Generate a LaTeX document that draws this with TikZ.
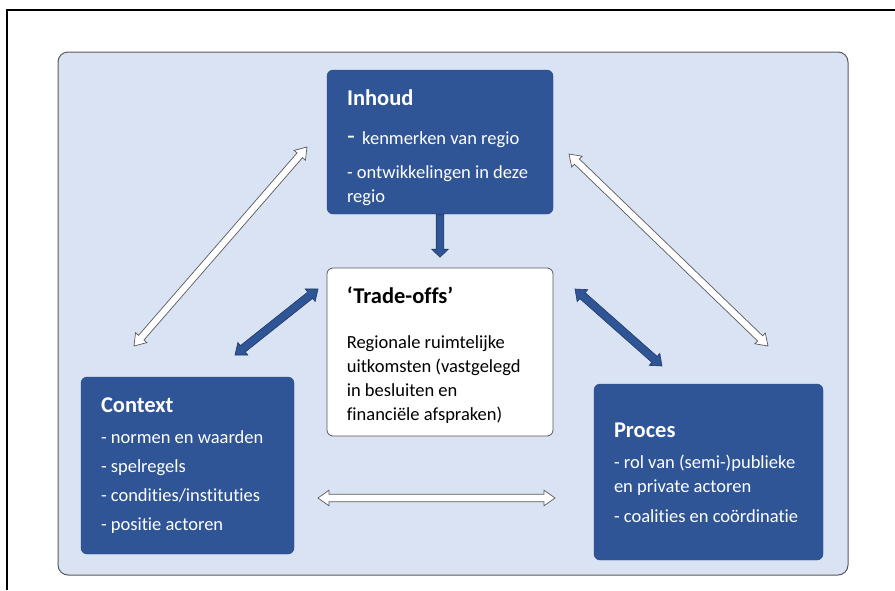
\documentclass[tikz,border=0pt]{standalone}
\usepackage{fontspec}
\setmainfont{Carlito}[Ligatures={NoCommon}]
\usetikzlibrary{positioning}
\usetikzlibrary{calc}
\definecolor{boxblue}{HTML}{2F5597}
\definecolor{panelblue}{HTML}{DAE3F3}
\definecolor{edgegray}{HTML}{595959}
\definecolor{arrowline}{HTML}{203864}
% #1 style, #2 from, #3 to, #4 half shaft, #5 half head, #6 head length
\newcommand{\twoheaded}[6]{%
  \draw[#1] (#2)
    -- ($(#2)!#6!(#3)!#5!90:(#3)$)
    -- ($(#2)!#6!(#3)!#4!90:(#3)$)
    -- ($(#3)!#6!(#2)!#4!-90:(#2)$)
    -- ($(#3)!#6!(#2)!#5!-90:(#2)$)
    -- (#3)
    -- ($(#3)!#6!(#2)!#5!90:(#2)$)
    -- ($(#3)!#6!(#2)!#4!90:(#2)$)
    -- ($(#2)!#6!(#3)!#4!-90:(#3)$)
    -- ($(#2)!#6!(#3)!#5!-90:(#3)$)
    -- cycle;}
\newcommand{\oneheaded}[6]{%
  \draw[#1] ($(#2)!#4!90:(#3)$)
    -- ($(#3)!#6!(#2)!#4!-90:(#2)$)
    -- ($(#3)!#6!(#2)!#5!-90:(#2)$)
    -- (#3)
    -- ($(#3)!#6!(#2)!#5!90:(#2)$)
    -- ($(#3)!#6!(#2)!#4!90:(#2)$)
    -- ($(#2)!#4!-90:(#3)$)
    -- cycle;}
\newcommand{\boxtitle}[1]{{\fontsize{22.5}{24}\selectfont\bfseries #1}}

\begin{document}
\begin{tikzpicture}[x=1pt,y=-1pt,
    bluebox/.style={draw=boxblue!85!black, fill=boxblue, rounded corners=6pt, inner sep=0pt},
    whitebox/.style={draw=edgegray, fill=white, rounded corners=6pt, line width=0.8pt, inner sep=0pt},
    boxtext/.style={inner sep=0pt, align=left, font=\fontsize{18.5}{24}\selectfont},
    whitearrow/.style={draw=edgegray, fill=white, line width=0.7pt},
    bluearrow/.style={draw=arrowline, fill=boxblue, line width=0.6pt}]
  \useasboundingbox (0,0) rectangle (895,590);
  \draw[line width=1.2pt] (7,590) -- (7,10) -- (895,10);

  \node[draw=edgegray, fill=panelblue, rounded corners=10pt, line width=1pt,
        minimum width=790pt, minimum height=523pt] (panel) at (453,313.5) {};

  % boxes
  \node[bluebox, minimum width=226pt, minimum height=144pt] (inhoud) at (440,142) {};
  \node[whitebox, minimum width=226pt, minimum height=168pt] (trade) at (440,352) {};
  \node[bluebox, minimum width=213pt, minimum height=177pt] (context) at (187.5,465.5) {};
  \node[bluebox, minimum width=229pt, minimum height=176pt] (proces) at (708.5,472) {};

  % texts
  \node[boxtext, text=white, below right=20pt and 20pt of inhoud.north west] (inhoudtxt) {%
    \boxtitle{Inhoud}\\[15pt]
    {\fontsize{26}{24}\selectfont -}\, kenmerken van regio\\[10pt]
    - ontwikkelingen in deze\\
    regio};
  \node[boxtext, below right=19pt and 20pt of trade.north west] (tradetxt) {%
    \boxtitle{‘Trade-offs’}\\[21pt]
    Regionale ruimtelijke\\
    uitkomsten (vastgelegd\\
    in besluiten en\\
    financiële afspraken)};
  \node[boxtext, text=white, below right=21pt and 20pt of context.north west] (contexttxt) {%
    \boxtitle{Context}\\[7pt]
    - normen en waarden\\[5pt]
    - spelregels\\[5pt]
    - condities/instituties\\[5pt]
    - positie actoren};
  \node[boxtext, text=white, below right=39pt and 20pt of proces.north west] (procestxt) {%
    \boxtitle{Proces}\\[7pt]
    - rol van (semi-)publieke\\
    en private actoren\\[6pt]
    - coalities en coördinatie};

  % arrow ends
  \coordinate (ci1) at (134,346);
  \coordinate (ci2) at (307,147);
  \coordinate (ip1) at (569,154);
  \coordinate (ip2) at (768,346);
  \coordinate (cp1) at (318,498);
  \coordinate (cp2) at (555,498);
  \coordinate (tc1) at (318,289);
  \coordinate (tc2) at (235,355);
  \coordinate (tp1) at (575,289);
  \coordinate (tp2) at (662,366);
  \coordinate (it1) at ([yshift=-43pt]inhoud.south);

  % arrows
  \twoheaded{whitearrow}{ci1}{ci2}{3.6pt}{7.5pt}{11pt}
  \twoheaded{whitearrow}{ip1}{ip2}{3.6pt}{7.5pt}{11pt}
  \twoheaded{whitearrow}{cp1}{cp2}{3.8pt}{7.8pt}{11pt}
  \twoheaded{bluearrow}{tc1}{tc2}{4pt}{8pt}{10pt}
  \twoheaded{bluearrow}{tp1}{tp2}{4pt}{8pt}{10pt}
  \oneheaded{bluearrow}{inhoud.south}{it1}{3.8pt}{8.3pt}{8pt}
\end{tikzpicture}
\end{document}
